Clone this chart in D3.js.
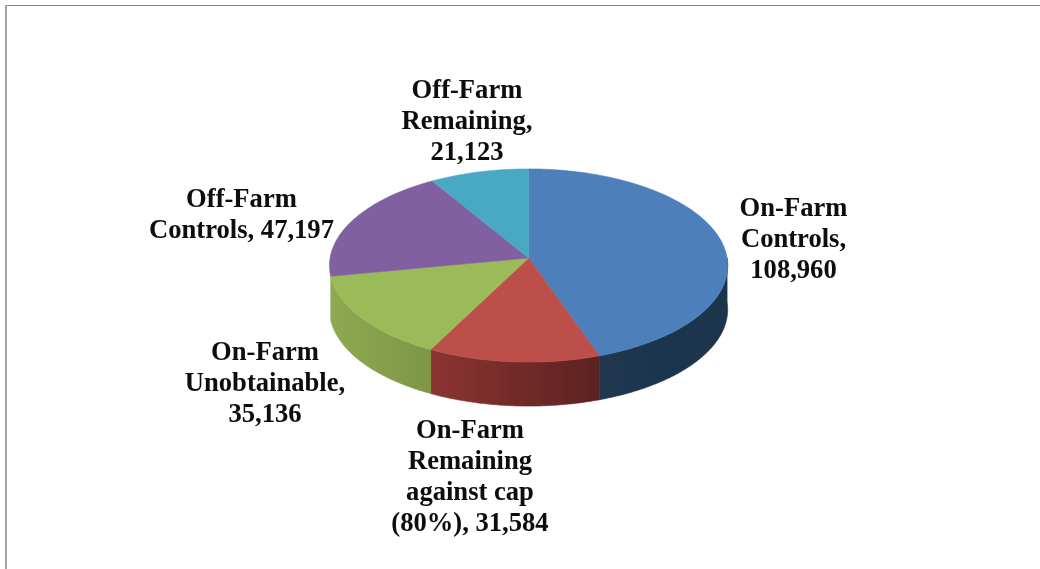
<!DOCTYPE html>
<html>
<head>
<meta charset="utf-8">
<script src="https://cdn.jsdelivr.net/npm/d3@7"></script>
<style>
  html, body { margin: 0; padding: 0; background: #fff; }
  svg { display: block; }
  text { font-family: "Liberation Serif", serif; font-weight: 700; font-size: 26.6px; fill: #0a0a0a; }
</style>
</head>
<body>
<svg id="chart" width="1040" height="569"></svg>
<script>
// Slice values, clockwise from twelve o'clock
const categories = ["On-Farm Controls", "On-Farm Remaining against cap (80%)", "On-Farm Unobtainable", "Off-Farm Controls", "Off-Farm Remaining"];
const values = [108960, 31584, 35136, 47197, 21123];
const faceColors = ["#4e7fba", "#bd504c", "#9bbb59", "#8061a0", "#49a8c4"];
const sideColorsLeft = ["#203751", "#8b3431", "#8fa952", "#6f5a8c", "#3a8aa0"];
const sideColorsRight = ["#1e344e", "#5c2321", "#7d9646", "#6f5a8c", "#3a8aa0"];
// Wrapped label lines; the last entry on each list is completed with the formatted value
const labelLines = [
  ["On-Farm", "Controls,", ""],
  ["On-Farm", "Remaining", "against cap", "(80%), "],
  ["On-Farm", "Unobtainable,", ""],
  ["Off-Farm", "Controls, "],
  ["Off-Farm", "Remaining,", ""]
];
const labelCenters = [[793.5, 216], [470, 438], [265, 360], [241.5, 207], [467, 98]];
const lineStep = 31;

const svg = d3.select("#chart");
const defs = svg.append("defs");
defs.append("filter").attr("id", "soft").append("feGaussianBlur").attr("stdDeviation", 0.55);
defs.append("filter").attr("id", "softText").append("feGaussianBlur").attr("stdDeviation", 0.3);

// Frame along the top and left edges
svg.append("line").attr("x1", 5).attr("x2", 1040).attr("y1", 5.5).attr("y2", 5.5)
  .attr("stroke", "#858585").attr("stroke-width", 1.2);
svg.append("line").attr("x1", 6).attr("x2", 6).attr("y1", 5).attr("y2", 569)
  .attr("stroke", "#a3a3a3").attr("stroke-width", 2);

// Tilted disc: a circle in perspective, nearer edge drawn slightly larger
const cx = 528.6, apexY = 258, spanX = 198.5, spanY = 96, tilt = 0.0777, depth = 44;
const project = (angle, radius = 1) => {
  const u = radius * Math.sin(angle), v = -radius * Math.cos(angle);
  const w = 1 - tilt * v;
  return [cx + spanX * u / w, apexY + spanY * v / w];
};

const arcs = d3.pie().sort(null).value(d => d)(values);
const rimAngles = (a0, a1) => {
  const n = Math.max(2, Math.ceil((a1 - a0) / 0.01));
  return d3.range(n + 1).map(i => a0 + (a1 - a0) * i / n);
};
const line = d3.line();
const pie = svg.append("g").attr("filter", "url(#soft)");

// Outer wall: slices reaching the near half of the rim, leaving out the one
// that only grazes the left extreme
arcs.forEach((arc, i) => {
  const mid = (arc.startAngle + arc.endAngle) / 2;
  if (arc.endAngle <= Math.PI / 2 || mid > 3 * Math.PI / 2) return;
  const a0 = Math.max(arc.startAngle, Math.PI / 2);
  const a1 = Math.min(arc.endAngle, 3 * Math.PI / 2);
  const top = rimAngles(a0, a1).map(a => project(a));
  const bottom = top.map(([x, y]) => [x, y + depth]).reverse();
  const [xa, xb] = d3.extent(top, p => p[0]);
  // Shading runs left to right across each wall segment
  const grad = defs.append("linearGradient").attr("id", `wall${i}`)
    .attr("gradientUnits", "userSpaceOnUse")
    .attr("x1", xa).attr("x2", xb).attr("y1", 0).attr("y2", 0);
  grad.append("stop").attr("offset", 0).attr("stop-color", sideColorsLeft[i]);
  grad.append("stop").attr("offset", 1).attr("stop-color", sideColorsRight[i]);
  pie.append("path").attr("d", line(top.concat(bottom)) + "Z")
    .attr("fill", `url(#wall${i})`)
    .attr("stroke", `url(#wall${i})`).attr("stroke-width", 0.6);
});

// Top face
arcs.forEach((arc, i) => {
  const rim = rimAngles(arc.startAngle, arc.endAngle).map(a => project(a));
  pie.append("path")
    .attr("d", line([project(0, 0), ...rim]) + "Z")
    .attr("fill", faceColors[i])
    .attr("stroke", faceColors[i]).attr("stroke-width", 0.6);
});

// Data labels
const fmt = d3.format(",");
const labels = svg.append("g").attr("filter", "url(#softText)").attr("text-anchor", "middle");
labelLines.forEach((lines, i) => {
  const t = labels.append("text").attr("aria-label", categories[i]);
  lines.forEach((s, j) => {
    t.append("tspan")
      .attr("x", labelCenters[i][0])
      .attr("y", labelCenters[i][1] + j * lineStep)
      .text(j === lines.length - 1 ? s + fmt(values[i]) : s);
  });
});
</script>
</body>
</html>
